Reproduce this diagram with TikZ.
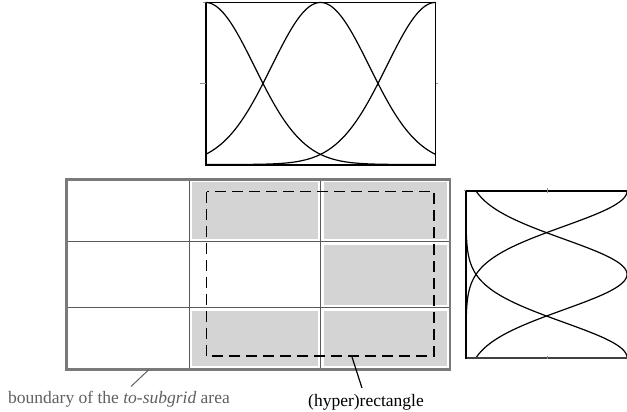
\documentclass[tikz,border=0pt]{standalone}
\usepackage{fontspec}
\setmainfont{Liberation Serif}
\definecolor{cellfill}{HTML}{D4D4D4}
\definecolor{gridline}{HTML}{5A5A5A}
\definecolor{outerline}{HTML}{7A7A7A}
\definecolor{labelgray}{HTML}{606060}
\definecolor{tickgray}{HTML}{909090}
\begin{document}
\begin{tikzpicture}[x=1pt,y=-1pt,
  curve/.style={black, line width=1.2pt, line join=round},
  frame/.style={black, line width=1.5pt},
  cellbox/.style={fill=cellfill, draw=none},
  gridln/.style={gridline, line width=1.3pt},
  outerbox/.style={outerline, line width=2.6pt},
  hyperrect/.style={black, line width=1.6pt, dash pattern=on 11pt off 6pt},
  tickmark/.style={tickgray, line width=1pt},
  lbl/.style={inner sep=0pt, font=\fontsize{17.5}{20}\selectfont}]
\useasboundingbox (0,0) rectangle (627,412);

% ---------- top plot ----------
\draw[frame] (205.5,2.5) rectangle (435.5,164.5);
\draw[black, line width=2pt] (205.5,2) -- (205.5,164.5) -- (436,164.5);
\draw[tickmark] (200,84) -- (205.5,84);
\draw[tickmark] (435.5,84) -- (438,84);
\draw[tickmark] (203,2.5) -- (205.5,2.5);
\begin{scope}
\clip (205.5,0) rectangle (435.5,166);
\draw[curve] plot[domain=205.5:435.5, samples=120]
  (\x, {164.5 - 162*exp(-2.7726*((\x-205.5)/115)*((\x-205.5)/115))});
\draw[curve] plot[domain=205.5:435.5, samples=120]
  (\x, {164.5 - 162*exp(-2.7726*((\x-320.5)/115)*((\x-320.5)/115))});
\draw[curve] plot[domain=205.5:435.5, samples=120]
  (\x, {164.5 - 162*exp(-2.7726*((\x-435.5)/115)*((\x-435.5)/115))});
\end{scope}

% ---------- right plot ----------
\begin{scope}
\clip (466,189) rectangle (628,359);
\draw[curve] plot[variable=\t, domain=191:357.7, samples=120]
  ({466 + 161*exp(-2.7726*((\t-191)/83.35)*((\t-191)/83.35))}, \t);
\draw[curve] plot[variable=\t, domain=191:357.7, samples=120]
  ({466 + 161*exp(-2.7726*((\t-274.35)/83.35)*((\t-274.35)/83.35))}, \t);
\draw[curve] plot[variable=\t, domain=191:357.7, samples=120]
  ({466 + 161*exp(-2.7726*((\t-357.7)/83.35)*((\t-357.7)/83.35))}, \t);
\end{scope}
\draw[black, line width=1.2pt] (466,191) -- (627,191);
\draw[black!75, line width=1.8pt] (466,357.7) -- (627,357.7);
\draw[black, line width=2.2pt] (466,190.4) -- (466,358.5);
\draw[tickmark] (547,188) -- (547,193);
\draw[tickmark] (547,355.5) -- (547,359);
\draw[tickmark] (464,190.5) -- (466,190.5);

% ---------- grid ----------
\fill[cellbox] (192.3,182.3) rectangle (317.7,238.9);
\fill[cellbox] (323.7,182.3) rectangle (447,238.9);
\fill[cellbox] (323.7,244.5) rectangle (447,305.1);
\fill[cellbox] (192.3,310.5) rectangle (317.7,366.3);
\fill[cellbox] (323.7,310.5) rectangle (447,366.3);
\draw[gridln] (189.3,179.3) -- (189.3,369.3);
\draw[gridln] (320.7,179.3) -- (320.7,369.3);
\draw[gridln] (66.7,241.7) -- (450,241.7);
\draw[gridln] (66.7,307.7) -- (450,307.7);
\draw[outerbox] (66.7,179.3) rectangle (450,369.3);
\draw[hyperrect] (206.5,191.5) rectangle (434,356);

% ---------- labels ----------
\node[lbl, text=labelgray, anchor=base west] (bnd) at (8,403)
  {boundary of the \textit{to-subgrid} area};
\node[lbl, anchor=base west] (hyp) at (308,406.5) {(hyper)rectangle};
\coordinate (bndA) at (149,369.5);
\coordinate (bndB) at (131,386.5);
\coordinate (hypA) at (352,357);
\coordinate (hypB) at (362,388);
\draw[labelgray, line width=1pt] (bndA) -- (bndB);
\draw[black, line width=1.2pt] (hypA) -- (hypB);
\end{tikzpicture}
\end{document}
